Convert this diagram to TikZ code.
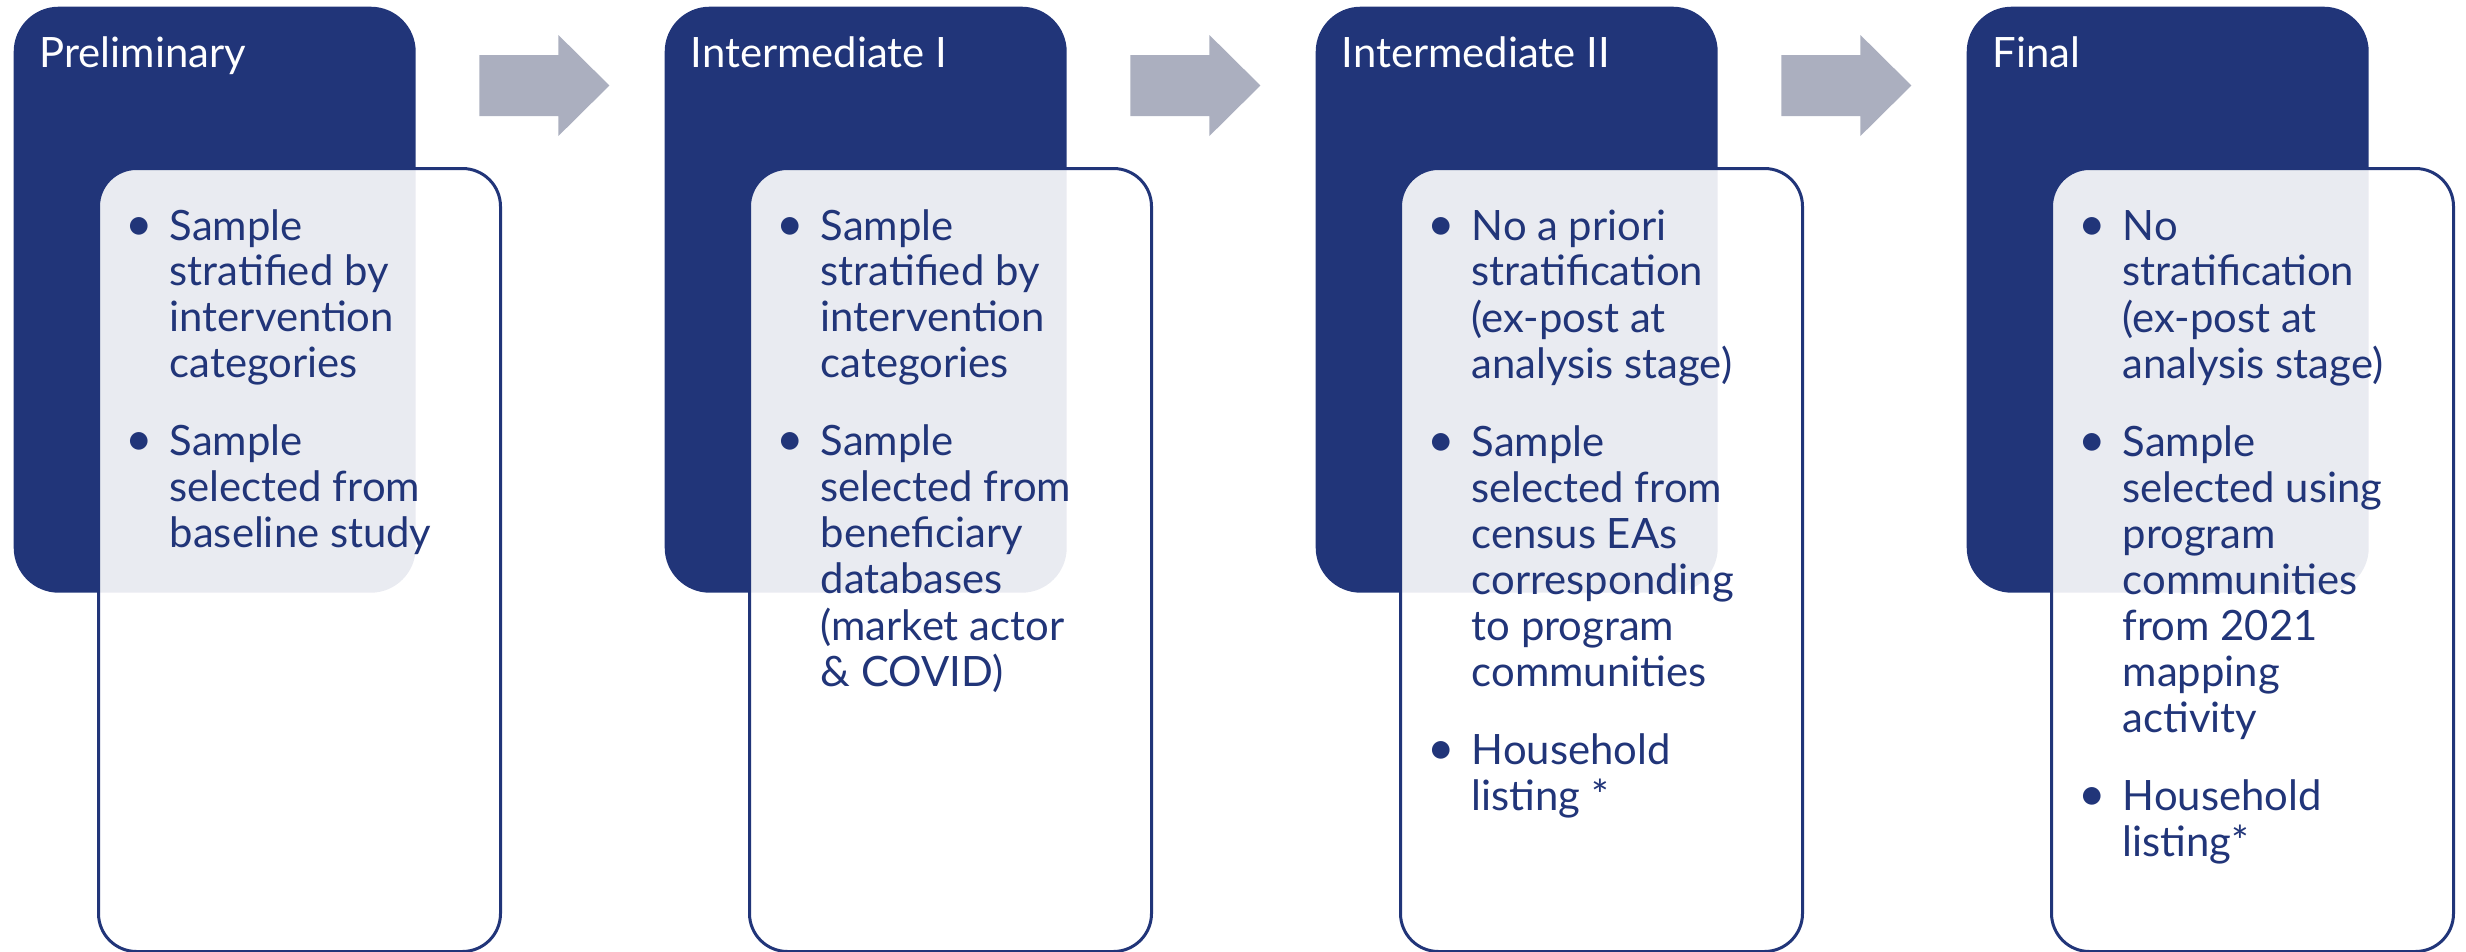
\documentclass[tikz,border=0pt]{standalone}
\usepackage{fontspec}
\setmainfont{Lato}
\usetikzlibrary{positioning,calc}
\definecolor{navy}{RGB}{33,53,121}
\definecolor{stepgray}{RGB}{171,175,191}
\newenvironment{pts}{\begin{tabular}[t]{@{}p{3.8mm}@{}l@{}}}{\end{tabular}}
\newcommand{\bul}{\hspace*{-0.6mm}{\fontsize{13.5}{13.08}\selectfont\textbullet}}

\begin{document}
\begin{tikzpicture}[
  x=0.1mm, y=-0.1mm,
  every node/.style={font=\fontsize{11.9}{13.08}\selectfont, inner sep=0pt},
  phase/.style={fill=navy, rounded corners=4.5mm, minimum width=40.2mm, minimum height=58.6mm, anchor=north west},
  detail/.style={draw=navy, line width=0.3mm, fill=white, fill opacity=0.9, rounded corners=3.8mm, minimum width=40.2mm, minimum height=78.3mm, anchor=north west},
  heading/.style={text=white, anchor=base west},
  points/.style={text=navy, anchor=base west},
  flow/.style={fill=stepgray}
]
\useasboundingbox (0,0) rectangle (2466,951);

% phase boxes with their headings
\foreach \i/\t in {1/Preliminary, 2/Intermediate I, 3/Intermediate II, 4/Final} {
  \node[phase] (p\i) at ({13+651*(\i-1)},6) {};
  \node[heading] (t\i) at ($(p\i.north west)+(26,61)$) {\t};
  \node[detail] (d\i) at ($(p\i.north west)+(84,161)$) {};
}

% block arrows between phases
\foreach \i in {1,2,3}
  \fill[flow] ($(p\i.north east)+(63,49)$) -- ++(79,0) -- ++(0,-20) -- ++(51,50.5)
    -- ++(-51,50.5) -- ++(0,-20) -- ++(-79,0) -- cycle;

\node[points] (l1) at ($(d1.north west)+(34,73)$) {\begin{pts}
  \bul & Sample\\ & stratified by\\ & intervention\\ & categories\\[3.2mm]
  \bul & Sample\\ & selected from\\ & baseline study
\end{pts}};
\node[points] (l2) at ($(d2.north west)+(34,73)$) {\begin{pts}
  \bul & Sample\\ & stratified by\\ & intervention\\ & categories\\[3.2mm]
  \bul & Sample\\ & selected from\\ & beneficiary\\ & databases\\ & (market actor\\ & \& COVID)
\end{pts}};
\node[points] (l3) at ($(d3.north west)+(34,73)$) {\begin{pts}
  \bul & No a priori\\ & stratification\\ & (ex-post at\\ & analysis stage)\\[3.2mm]
  \bul & Sample\\ & selected from\\ & census EAs\\ & corresponding\\ & to program\\ & communities\\[3.2mm]
  \bul & Household\\ & listing *
\end{pts}};
\node[points] (l4) at ($(d4.north west)+(34,73)$) {\begin{pts}
  \bul & No\\ & stratification\\ & (ex-post at\\ & analysis stage)\\[3.2mm]
  \bul & Sample\\ & selected using\\ & program\\ & communities\\ & from 2021\\ & mapping\\ & activity\\[3.2mm]
  \bul & Household\\ & listing*
\end{pts}};
\end{tikzpicture}
\end{document}
